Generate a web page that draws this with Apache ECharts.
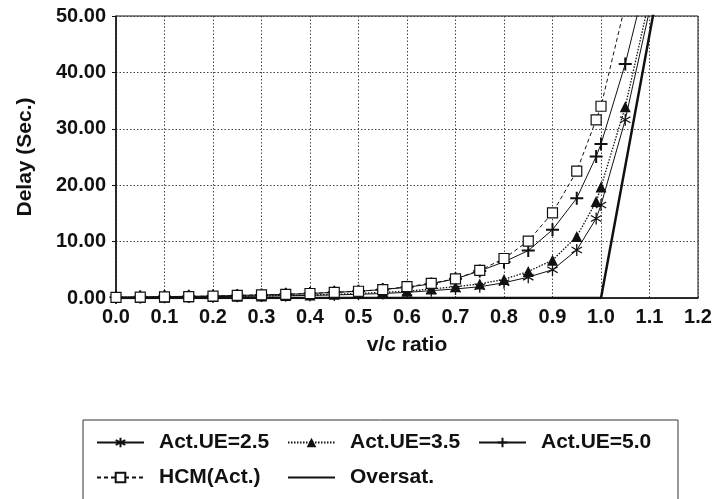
<!DOCTYPE html>
<html>
<head>
<meta charset="utf-8">
<script src="https://cdn.jsdelivr.net/npm/echarts@6/dist/echarts.min.js"></script>
<style>
html,body{margin:0;padding:0;background:#fff;}
#chart{width:715px;height:499px;}
</style>
</head>
<body>
<div id="chart"></div>
<script>
// v/c ratio sample points
var vc = [0, 0.05, 0.1, 0.15, 0.2, 0.25, 0.3, 0.35, 0.4, 0.45, 0.5, 0.55, 0.6, 0.65, 0.7, 0.75, 0.8, 0.85, 0.9, 0.95, 0.99, 1.0, 1.05, 1.1];
var ue25 = [0.1, 0.1, 0.15, 0.2, 0.25, 0.3, 0.35, 0.4, 0.45, 0.55, 0.65, 0.8, 1.0, 1.3, 1.6, 2.0, 2.7, 3.7, 5.0, 8.5, 14.1, 16.5, 31.6, 51];
var ue35 = [0.1, 0.1, 0.15, 0.2, 0.25, 0.3, 0.35, 0.45, 0.55, 0.65, 0.8, 1.0, 1.2, 1.6, 2.0, 2.5, 3.3, 4.7, 6.7, 10.9, 17.1, 19.7, 33.9, 53];
var ue50 = [0.15, 0.2, 0.25, 0.3, 0.35, 0.45, 0.55, 0.65, 0.8, 1.0, 1.2, 1.5, 1.9, 2.5, 3.4, 4.8, 6.4, 8.4, 12.1, 17.7, 25.1, 27.3, 41.5, 59];
var hcm  = [0.1, 0.15, 0.2, 0.25, 0.35, 0.45, 0.55, 0.65, 0.8, 1.0, 1.2, 1.5, 2.0, 2.6, 3.4, 4.9, 7.0, 10.1, 15.1, 22.5, 31.6, 34.0, 52, null];
var oversatX = [0, 1.0, 1.1, 1.2];
var oversatY = [0, 0, 46.7, 93.5];
var seriesNames = ['Act.UE=2.5', 'Act.UE=3.5', 'Act.UE=5.0', 'HCM(Act.)', 'Oversat.'];

function pairs(xs, ys) {
  var out = [];
  for (var i = 0; i < xs.length; i++) out.push([xs[i], ys[i]]);
  return out;
}

var INK = '#111';
var FONT = '"Liberation Sans", Arial, Helvetica, sans-serif';
var asterisk = 'path://M10,0 L10,20 M1.34,5 L18.66,15 M1.34,15 L18.66,5';
var plus = 'path://M10,0 L10,20 M0,10 L20,10';

var chart = echarts.init(document.getElementById('chart'), null, {renderer: 'canvas'});
chart.setOption({
  animation: false,
  backgroundColor: '#fff',
  textStyle: {fontFamily: FONT, color: INK},
  grid: {left: 116, right: 17, top: 16, bottom: 201, show: true, borderColor: INK, borderWidth: 1, backgroundColor: 'transparent'},
  xAxis: {
    type: 'value', min: 0, max: 1.2, interval: 0.1,
    name: 'v/c ratio', nameLocation: 'middle', nameGap: 37,
    nameTextStyle: {fontSize: 21, fontWeight: 'bold', color: INK, fontFamily: FONT},
    axisLine: {show: true, lineStyle: {color: INK, width: 1.5}},
    axisTick: {show: false},
    axisLabel: {fontSize: 20, fontWeight: 'bold', color: INK, margin: 9, fontFamily: FONT,
      formatter: function (v) { return v.toFixed(1); }},
    splitLine: {show: true, lineStyle: {color: '#444', type: [1.5, 2], width: 1}}
  },
  yAxis: {
    type: 'value', min: 0, max: 50, interval: 10,
    name: 'Delay (Sec.)', nameLocation: 'middle', nameGap: 80,
    nameTextStyle: {fontSize: 21, fontWeight: 'bold', color: INK, fontFamily: FONT},
    axisLine: {show: true, lineStyle: {color: INK, width: 1.5}},
    axisTick: {show: true, length: 4, lineStyle: {color: INK}},
    axisLabel: {fontSize: 20, fontWeight: 'bold', color: INK, margin: 10, fontFamily: FONT,
      formatter: function (v) { return v.toFixed(2); }},
    splitLine: {show: true, lineStyle: {color: '#444', type: [1.5, 2], width: 1}}
  },
  legend: {
    data: seriesNames,
    left: 83, top: 420, width: 575,
    orient: 'horizontal',
    padding: [10, 19, 60, 13],
    borderColor: '#333', borderWidth: 1,
    itemWidth: 47, itemHeight: 12, itemGap: 10,
    textStyle: {fontSize: 21, fontWeight: 'bold', color: INK, fontFamily: FONT,
      width: 118, lineHeight: 25, padding: [0, 0, 0, 10]}
  },
  series: [
    {
      name: seriesNames[0], type: 'line', data: pairs(vc, ue25),
      symbol: asterisk, symbolSize: 12, symbolKeepAspect: true,
      lineStyle: {color: INK, width: 1, type: 'solid'},
      itemStyle: {color: INK, borderColor: INK, borderWidth: 1.3}
    },
    {
      name: seriesNames[1], type: 'line', data: pairs(vc, ue35),
      symbol: 'triangle', symbolSize: 11,
      lineStyle: {color: INK, width: 1.3, type: [1.5, 1.5]},
      itemStyle: {color: INK, borderColor: INK, borderWidth: 0}
    },
    {
      name: seriesNames[2], type: 'line', data: pairs(vc, ue50),
      symbol: plus, symbolSize: 13, symbolKeepAspect: true,
      lineStyle: {color: INK, width: 1, type: 'solid'},
      itemStyle: {color: INK, borderColor: INK, borderWidth: 2}
    },
    {
      name: seriesNames[3], type: 'line', data: pairs(vc, hcm),
      symbol: 'rect', symbolSize: 10,
      lineStyle: {color: INK, width: 1, type: [4, 3]},
      itemStyle: {color: '#fff', borderColor: INK, borderWidth: 1.2}
    },
    {
      name: seriesNames[4], type: 'line', data: pairs(oversatX, oversatY),
      symbol: 'none',
      lineStyle: {color: INK, width: 2.5, type: 'solid'},
      itemStyle: {color: 'rgba(0,0,0,0)', borderColor: 'rgba(0,0,0,0)', borderWidth: 0}
    }
  ]
});
</script>
</body>
</html>
